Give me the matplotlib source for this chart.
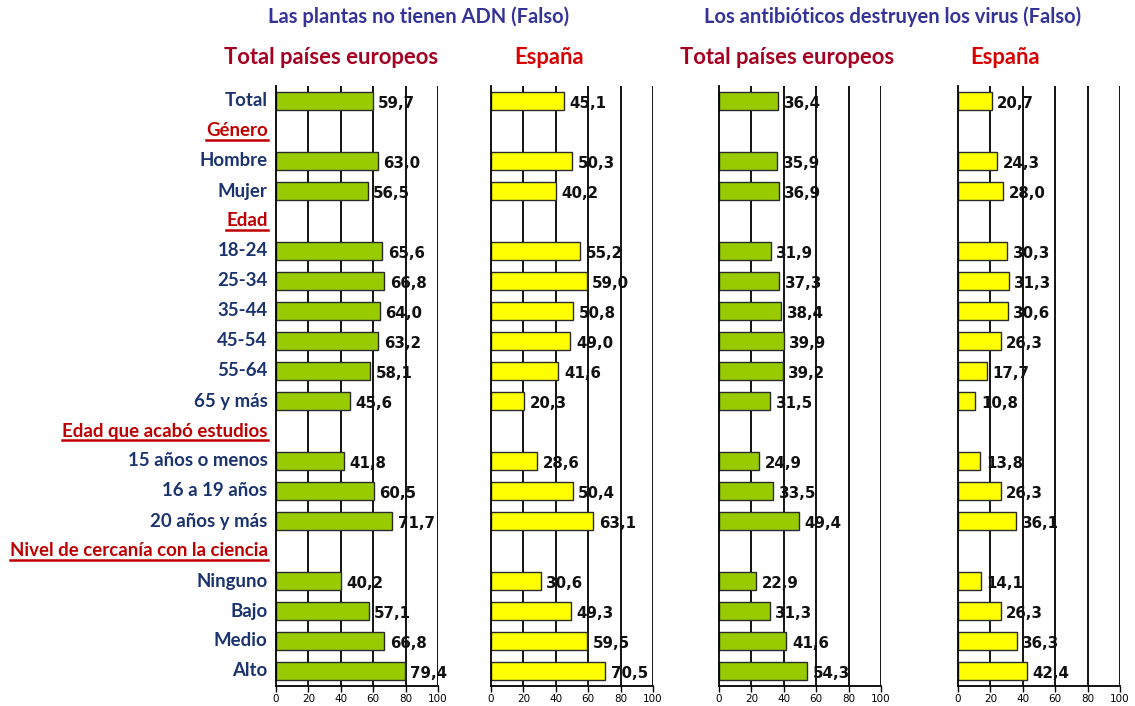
import matplotlib
matplotlib.use("Agg")
import matplotlib.pyplot as plt
from matplotlib.lines import Line2D

# Row layout: section headers and category rows
row_labels = ["Total", "Género", "Hombre", "Mujer", "Edad", "18-24", "25-34", "35-44",
              "45-54", "55-64", "65 y más", "Edad que acabó estudios", "15 años o menos",
              "16 a 19 años", "20 años y más", "Nivel de cercanía con la ciencia",
              "Ninguno", "Bajo", "Medio", "Alto"]
header_rows = ["Género", "Edad", "Edad que acabó estudios", "Nivel de cercanía con la ciencia"]

# Percent answering correctly, per category row (headers excluded)
categories = [l for l in row_labels if l not in header_rows]
adn_europa = [59.7, 63.0, 56.5, 65.6, 66.8, 64.0, 63.2, 58.1, 45.6, 41.8, 60.5, 71.7,
              40.2, 57.1, 66.8, 79.4]
adn_espana = [45.1, 50.3, 40.2, 55.2, 59.0, 50.8, 49.0, 41.6, 20.3, 28.6, 50.4, 63.1,
              30.6, 49.3, 59.5, 70.5]
virus_europa = [36.4, 35.9, 36.9, 31.9, 37.3, 38.4, 39.9, 39.2, 31.5, 24.9, 33.5, 49.4,
                22.9, 31.3, 41.6, 54.3]
virus_espana = [20.7, 24.3, 28.0, 30.3, 31.3, 30.6, 26.3, 17.7, 10.8, 13.8, 26.3, 36.1,
                14.1, 26.3, 36.3, 42.4]

x_ticks = [0, 20, 40, 60, 80, 100]
question_titles = ["Las plantas no tienen ADN (Falso)", "Los antibióticos destruyen los virus (Falso)"]
panel_titles = ["Total países europeos", "España", "Total países europeos", "España"]

W, H = 1135, 706
fig = plt.figure(figsize=(W / 100, H / 100), dpi=100)
fig.patch.set_facecolor("white")

LABEL_FONT = ["Lato", "DejaVu Sans"]
GREEN = "#99CC00"
YELLOW = "#FFFF00"
NAVY = "#1B3470"
HEAD_RED = "#C00000"

ypos = {lab: i for i, lab in enumerate(row_labels)}
cat_y = [ypos[c] for c in categories]

panels = [
    (276, adn_europa, GREEN),
    (491, adn_espana, YELLOW),
    (719, virus_europa, GREEN),
    (958, virus_espana, YELLOW),
]
ax_bottom_px, ax_top_px = 686, 86
pw = 162

axes = []
for left_px, vals, color in panels:
    ax = fig.add_axes([left_px / W, 1 - ax_bottom_px / H, pw / W,
                       (ax_bottom_px - ax_top_px) / H])
    ax.set_xlim(0, 100)
    ax.set_ylim(len(row_labels) - 0.5, -0.5)
    for xv in x_ticks[1:]:
        ax.axvline(xv, color="black", lw=1.3, zorder=1)
    ax.barh(cat_y, vals, height=0.63, color=color, edgecolor="#2a2a2a",
            linewidth=1.0, zorder=2)
    for y, v in zip(cat_y, vals):
        ax.annotate(f"{v:.1f}".replace(".", ","), xy=(v, y), xytext=(4, -2),
                    textcoords="offset points", ha="left", va="center",
                    fontsize=10.8, fontweight="bold", color="#111111",
                    family="DejaVu Sans", zorder=3)
    for s in ["top", "right"]:
        ax.spines[s].set_visible(False)
    ax.spines["left"].set_color("black")
    ax.spines["left"].set_linewidth(1.3)
    ax.spines["bottom"].set_color("black")
    ax.spines["bottom"].set_linewidth(1.3)
    ax.set_yticks([])
    ax.set_xticks(x_ticks)
    ax.tick_params(axis="x", direction="out", length=4, width=1, labelsize=7.5,
                   pad=2, colors="black")
    axes.append(ax)

# Row labels to the left of the first panel
ax0 = axes[0]
label_texts = []
for lab in row_labels:
    is_head = lab in header_rows
    t = ax0.annotate(lab, xy=(0, ypos[lab]), xycoords=("axes fraction", "data"),
                     xytext=(-6, 0), textcoords="offset points", ha="right",
                     va="center", fontsize=13.4, fontweight="bold",
                     family=LABEL_FONT, color=HEAD_RED if is_head else NAVY)
    label_texts.append((t, is_head))

# Question titles over each pair of panels
question_x = [419, 893]
for cx, q in zip(question_x, question_titles):
    fig.text(cx / W, 1 - 17 / H, q, ha="center", va="center", fontsize=14.5,
             fontweight="bold", family=LABEL_FONT, color="#333399")

title_x = [331, 549, 787, 1005]
title_colors = ["#A50021", "#D80000", "#A50021", "#D80000"]
for x, t, c in zip(title_x, panel_titles, title_colors):
    fig.text(x / W, 1 - 57 / H, t, ha="center", va="center", fontsize=15.8,
             fontweight="bold", family=LABEL_FONT, color=c)

# Underline the section headers
fig.canvas.draw()
renderer = fig.canvas.get_renderer()
for t, is_head in label_texts:
    if not is_head:
        continue
    bb = t.get_window_extent(renderer)
    yline = bb.y0
    fig.add_artist(Line2D([bb.x0 / W, bb.x1 / W], [yline / H, yline / H],
                          transform=fig.transFigure, color=HEAD_RED, lw=1.8))

fig.savefig("out.png", dpi=100)
